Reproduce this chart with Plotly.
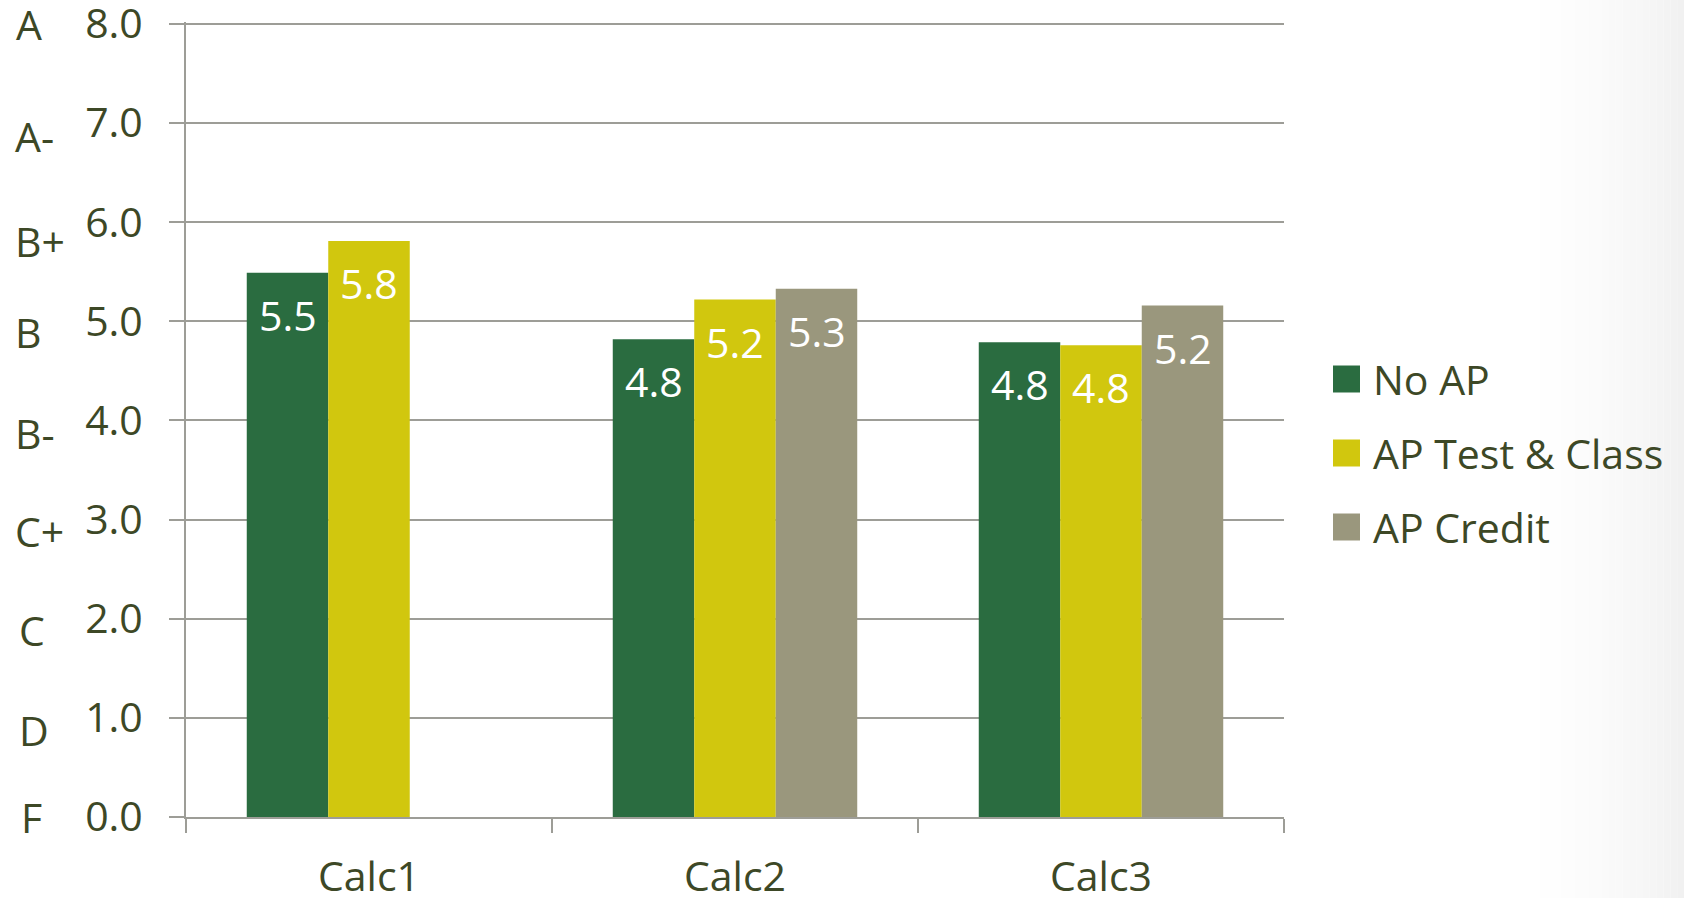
import plotly.graph_objects as go

# Course grades by AP background (grade points, 0 = F ... 8 = A)
categories = ["Calc1", "Calc2", "Calc3"]
series_names = ["No AP", "AP Test & Class", "AP Credit"]
no_ap = [5.49, 4.82, 4.79]
ap_test_class = [5.81, 5.22, 4.76]
ap_credit = [None, 5.33, 5.16]
series_values = [no_ap, ap_test_class, ap_credit]
series_colors = ["#2a6c40", "#d1c70e", "#9a977d"]

y_ticks = [0, 1, 2, 3, 4, 5, 6, 7, 8]
grade_labels = ["F", "D", "C", "C+", "B-", "B", "B+", "A-", "A"]
grade_yshift = [0, -12, -11, -11, -13, -11, -19, -13, 0]
grade_xshift = [6, 4, 4, 0, 0, 0, 0, 0, 1]

FONT = "Open Sans"
TEXT_COLOR = "#3d4826"
GRID_COLOR = "#9d9d97"
FS = 41

W, H = 1684, 898
M_L, M_R, M_T, M_B = 186, 400, 22, 81
PW, PH = W - M_L - M_R, H - M_T - M_B
Y_MAX = 8.02
BARGAP = 0.332
n_series = len(series_names)
bar_w = (1 - BARGAP) / n_series


def px_x(px):
    return (px - M_L) / PW


def px_y(py):
    return (H - M_B - py) / PH


fig = go.Figure()
for name, vals, color in zip(series_names, series_values, series_colors):
    fig.add_trace(go.Bar(
        x=categories, y=vals, name=name,
        marker=dict(color=color, line=dict(width=0)),
        showlegend=False,
    ))

annotations = []
# value labels inside the top of each bar
for j, vals in enumerate(series_values):
    for i, v in enumerate(vals):
        if v is None:
            continue
        annotations.append(dict(
            x=i + (j - (n_series - 1) / 2) * bar_w, y=v, xref="x", yref="y",
            text=f"{v:.1f}", showarrow=False, yanchor="middle", xanchor="center",
            yshift=-42, font=dict(family=FONT, size=FS, color="white"),
        ))

# letter grades beside the numeric scale
for g, yv, ys, xs in zip(grade_labels, y_ticks, grade_yshift, grade_xshift):
    annotations.append(dict(
        x=px_x(13), y=yv, xref="paper", yref="y", text=g, showarrow=False,
        xanchor="left", yanchor="middle", yshift=ys, xshift=xs,
        font=dict(family=FONT, size=FS, color=TEXT_COLOR),
    ))

shapes = []
# soft shading toward the right edge of the slide
n_strips = 24
x0_px, x1_px = 1520, W
for k in range(n_strips):
    a = x0_px + (x1_px - x0_px) * k / n_strips
    b = x0_px + (x1_px - x0_px) * (k + 1) / n_strips
    t = (k + 0.5) / n_strips
    shade = int(round(255 - 14 * t ** 1.6))
    shapes.append(dict(
        type="rect", xref="paper", yref="paper",
        x0=px_x(a), x1=px_x(b), y0=px_y(H), y1=px_y(0),
        fillcolor=f"rgb({shade},{shade},{shade})", line=dict(width=0), layer="below",
    ))

# legend: swatches and names
legend_y = [379, 453, 527]
for name, color, cy in zip(series_names, series_colors, legend_y):
    shapes.append(dict(
        type="rect", xref="paper", yref="paper",
        x0=px_x(1333), x1=px_x(1360), y0=px_y(cy + 13.5), y1=px_y(cy - 13.5),
        fillcolor=color, line=dict(width=0),
    ))
    annotations.append(dict(
        x=px_x(1371), y=px_y(cy), xref="paper", yref="paper", text=name,
        showarrow=False, xanchor="left", yanchor="middle",
        font=dict(family=FONT, size=FS, color=TEXT_COLOR),
    ))

fig.update_layout(
    width=W, height=H,
    margin=dict(l=M_L, r=M_R, t=M_T, b=M_B, pad=0, autoexpand=False),
    paper_bgcolor="white", plot_bgcolor="rgba(0,0,0,0)",
    barmode="group", bargap=BARGAP, bargroupgap=0,
    font=dict(family=FONT, size=FS, color=TEXT_COLOR),
    annotations=annotations, shapes=shapes,
    showlegend=False,
)
fig.update_xaxes(
    type="category", tickson="boundaries", ticks="outside", ticklen=14,
    tickwidth=2, tickcolor=GRID_COLOR, showline=True, linecolor=GRID_COLOR,
    linewidth=2, showgrid=False, ticklabelstandoff=23, automargin=False,
    ticklabeloverflow="allow",
    tickfont=dict(family=FONT, size=FS, color=TEXT_COLOR),
)
fig.update_yaxes(
    range=[0, Y_MAX], tickvals=y_ticks, ticktext=[f"{v:.1f}" for v in y_ticks],
    ticks="outside", ticklen=15, tickwidth=2, tickcolor=GRID_COLOR,
    showline=True, linecolor=GRID_COLOR, linewidth=2,
    showgrid=True, gridcolor=GRID_COLOR, gridwidth=2, zeroline=False,
    ticklabelstandoff=18, automargin=False, ticklabeloverflow="allow",
    tickfont=dict(family=FONT, size=FS, color=TEXT_COLOR),
)

fig.write_html("out.html")
